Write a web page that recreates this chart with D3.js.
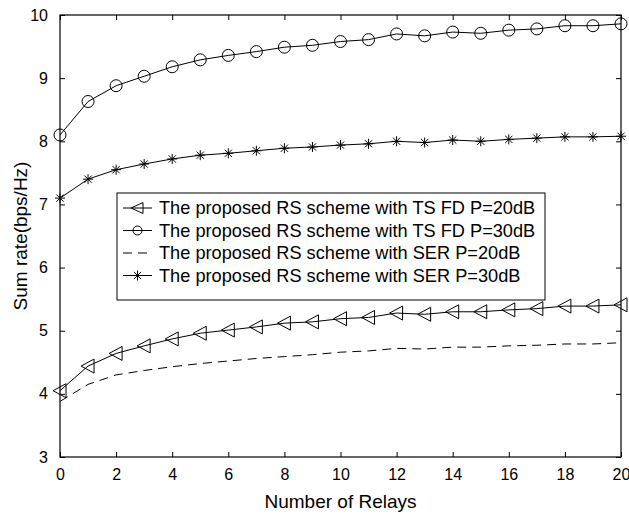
<!DOCTYPE html>
<html>
<head>
<meta charset="utf-8">
<script src="https://cdn.jsdelivr.net/npm/d3@7"></script>
<style>
  body { margin: 0; background: #fff; }
  text { font-family: "Liberation Sans", Arial, sans-serif; fill: #000; }
</style>
</head>
<body>
<script>
// relays on the x axis
const relays = d3.range(0, 21);

// sum rate values
const tsfd20 = [4.05, 4.44, 4.64, 4.76, 4.87, 4.96, 5.01, 5.06, 5.12, 5.14, 5.19,
                5.21, 5.28, 5.26, 5.30, 5.30, 5.33, 5.35, 5.39, 5.39, 5.41];
const tsfd30 = [8.10, 8.63, 8.88, 9.03, 9.18, 9.29, 9.36, 9.42, 9.49, 9.52, 9.58,
                9.61, 9.70, 9.67, 9.73, 9.71, 9.76, 9.78, 9.83, 9.83, 9.86];
const ser20 = [3.88, 4.15, 4.30, 4.37, 4.43, 4.48, 4.52, 4.56, 4.59, 4.62, 4.66,
               4.68, 4.72, 4.71, 4.74, 4.74, 4.76, 4.77, 4.79, 4.79, 4.81];
const ser30 = [7.10, 7.40, 7.55, 7.64, 7.72, 7.78, 7.81, 7.85, 7.89, 7.91, 7.94,
               7.96, 8.00, 7.98, 8.02, 8.00, 8.03, 8.05, 8.07, 8.07, 8.08];

const legendLabels = [
  'The proposed RS scheme with TS FD P=20dB',
  'The proposed RS scheme with TS FD P=30dB',
  'The proposed RS scheme with SER P=20dB',
  'The proposed RS scheme with SER P=30dB'
];
const xTicks = d3.range(0, 21, 2);
const yTicks = [3, 4, 5, 6, 7, 8, 9, 10];

const [w, h] = [629, 514];
const m = {left: 60, right: 8, top: 15, bottom: 57};

const svg = d3.select('body').append('svg')
  .attr('width', w)
  .attr('height', h);

const x = d3.scaleLinear().domain([0, 20]).range([m.left, w - m.right]);
const y = d3.scaleLinear().domain([3, 10]).range([h - m.bottom, m.top]);
const fmt = d3.format('d');

// axes, ticks point inwards
svg.append('g')
  .attr('transform', `translate(0,${h - m.bottom})`)
  .call(d3.axisBottom(x).tickValues(xTicks).tickFormat(fmt).tickSizeInner(-5).tickSizeOuter(0).tickPadding(12))
  .call(g => g.select('.domain').remove());
svg.append('g')
  .attr('transform', `translate(0,${m.top})`)
  .call(d3.axisTop(x).tickValues(xTicks).tickSizeInner(-5).tickSizeOuter(0).tickFormat(''))
  .call(g => g.select('.domain').remove());
svg.append('g')
  .attr('transform', `translate(${m.left},0)`)
  .call(d3.axisLeft(y).tickValues(yTicks).tickFormat(fmt).tickSizeInner(-5).tickSizeOuter(0).tickPadding(12))
  .call(g => g.select('.domain').remove());
svg.append('g')
  .attr('transform', `translate(${w - m.right},0)`)
  .call(d3.axisRight(y).tickValues(yTicks).tickSizeInner(-5).tickSizeOuter(0).tickFormat(''))
  .call(g => g.select('.domain').remove());

svg.selectAll('.tick text')
  .attr('font-size', '16px')
  .attr('font-family', '"Liberation Sans", Arial, sans-serif');
svg.selectAll('.tick line').attr('stroke', '#000');

svg.append('rect')
  .attr('x', m.left).attr('y', m.top)
  .attr('width', w - m.right - m.left)
  .attr('height', h - m.bottom - m.top)
  .attr('fill', 'none')
  .attr('stroke', '#000')
  .attr('stroke-width', 1.2);

// axis titles
svg.append('text')
  .attr('x', (m.left + w - m.right) / 2)
  .attr('y', 508)
  .attr('text-anchor', 'middle')
  .attr('font-size', '19px')
  .text('Number of Relays');
svg.append('text')
  .attr('transform', `translate(27,${(m.top + h - m.bottom) / 2}) rotate(-90)`)
  .attr('text-anchor', 'middle')
  .attr('font-size', '19px')
  .text('Sum rate(bps/Hz)');

const line = d3.line().x((d, i) => x(relays[i])).y(d => y(d));

// marker drawers
function triangle(g, cx, cy) {
  g.append('path')
    .attr('d', `M${cx - 7},${cy} L${cx + 6},${cy - 7} L${cx + 6},${cy + 7} Z`)
    .attr('fill', 'none').attr('stroke', '#000');
}
function circle(g, cx, cy) {
  g.append('circle').attr('cx', cx).attr('cy', cy).attr('r', 6)
    .attr('fill', 'none').attr('stroke', '#000');
}
function star(g, cx, cy) {
  const r = 5, d = 3.6;
  g.append('path')
    .attr('d', `M${cx - r},${cy} L${cx + r},${cy} M${cx},${cy - r} L${cx},${cy + r}` +
               `M${cx - d},${cy - d} L${cx + d},${cy + d} M${cx - d},${cy + d} L${cx + d},${cy - d}`)
    .attr('stroke', '#000').attr('stroke-width', 1);
}

const series = [
  {vals: tsfd20, marker: triangle, dash: null},
  {vals: tsfd30, marker: circle, dash: null},
  {vals: ser20, marker: null, dash: '9,6'},
  {vals: ser30, marker: star, dash: null}
];

series.forEach(s => {
  svg.append('path')
    .datum(s.vals)
    .attr('d', line)
    .attr('fill', 'none')
    .attr('stroke', '#000')
    .attr('stroke-width', 1)
    .attr('stroke-dasharray', s.dash);
  if (s.marker) {
    const mg = svg.append('g');
    s.vals.forEach((v, i) => s.marker(mg, x(relays[i]), y(v)));
  }
});

// legend
const lg = svg.append('g');
lg.append('rect')
  .attr('x', 117).attr('y', 193)
  .attr('width', 428).attr('height', 107)
  .attr('fill', '#fff')
  .attr('stroke', '#000');

legendLabels.forEach((lab, i) => {
  const cy = 208 + i * 22.5;
  lg.append('line')
    .attr('x1', 123).attr('x2', 152)
    .attr('y1', cy).attr('y2', cy)
    .attr('stroke', '#000')
    .attr('stroke-dasharray', series[i].dash ? '9,6' : null);
  if (series[i].marker === triangle) {
    lg.append('path').attr('d', `M${131},${cy} L${143},${cy - 5.5} L${143},${cy + 5.5} Z`)
      .attr('fill', 'none').attr('stroke', '#000');
  } else if (series[i].marker === circle) {
    lg.append('circle').attr('cx', 137.5).attr('cy', cy).attr('r', 4.5)
      .attr('fill', 'none').attr('stroke', '#000');
  } else if (series[i].marker) {
    series[i].marker(lg, 137.5, cy);
  }
  lg.append('text')
    .attr('x', 159)
    .attr('y', cy)
    .attr('dy', '0.35em')
    .attr('font-size', '18.2px')
    .text(lab);
});
</script>
</body>
</html>
